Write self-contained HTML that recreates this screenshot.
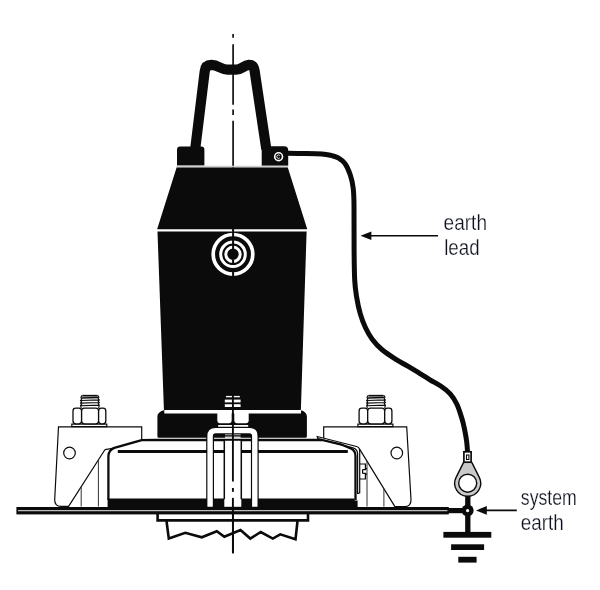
<!DOCTYPE html>
<html lang="en">
<head>
<meta charset="utf-8">
<title>Earth lead / system earth diagram</title>
<style>
  html, body { margin: 0; padding: 0; background: #ffffff; }
  body { width: 600px; height: 590px; overflow: hidden; }
  svg { display: block; }
  .lbl { font-family: "Liberation Sans", "DejaVu Sans", sans-serif; font-size: 21.6px; fill: #0c101c; stroke: #ffffff; stroke-width: 0.25px; }
</style>
</head>
<body>
<svg width="600" height="590" viewBox="0 0 600 590">
  <rect x="0" y="0" width="600" height="590" fill="#ffffff"/>

  <!-- ===== centre line (behind everything) ===== -->
  <g id="centreline-back" stroke="#111" stroke-width="1.7" fill="none">
    <line x1="233.1" y1="34" x2="233.1" y2="37.7"/>
    <line x1="233.1" y1="44.2" x2="233.1" y2="104.8"/>
    <line x1="233.1" y1="109.5" x2="233.1" y2="115"/>
    <line x1="233.1" y1="120.7" x2="233.1" y2="170"/>
    <line x1="233.1" y1="507" x2="233.1" y2="553.3"/>
  </g>

  <!-- ===== lifting handle ===== -->
  <g id="handle">
    <path d="M195.2,149 L204.7,71.5 Q205.4,65 211.4,64.9 C218.5,65.2 221.5,69.7 227.5,69.7 L236,69.7 C241.5,69.7 243.5,65.3 248.8,64.9 Q254,64.7 254.7,71.5 L266.3,149"
          fill="none" stroke="#0b0b0b" stroke-width="10.2" stroke-linejoin="round" stroke-linecap="butt"/>
    <!-- feet -->
    <path d="M177,165.6 L177,149.8 Q177,146.6 180.2,146.6 L201.2,146.6 Q204.4,146.6 204.4,149.8 L204.4,165.6 Z" fill="#0b0b0b"/>
    <path d="M261.7,165.8 L261.7,146.3 L284.2,146.3 Q288.2,146.3 288.2,150.3 L288.2,165.8 Z" fill="#0b0b0b"/>
    <!-- screw -->
    <circle cx="278.6" cy="156.7" r="4.7" fill="#ffffff"/>
    <circle cx="278.6" cy="156.7" r="3.1" fill="#0b0b0b"/>
    <path d="M279.8,155.6 A1.7,1.7 0 1 0 279.8,157.8" fill="none" stroke="#ffffff" stroke-width="0.9"/>
  </g>

  <!-- grey seam under feet -->
  <line x1="176.4" y1="166.7" x2="288" y2="166.7" stroke="#d0d0d0" stroke-width="1.8"/>

  <!-- ===== main body ===== -->
  <g id="body">
    <path d="M176.6,167.6 L287.8,167.6 L307.2,229 L306.6,232 L300.8,412 L164,412 L157.5,232 L157.2,229 Z" fill="#0b0b0b"/>
    <!-- white seam -->
    <line x1="155" y1="230.3" x2="309" y2="230.3" stroke="#ffffff" stroke-width="2.2"/>
    <!-- bottom ring -->
    <path d="M157.4,436.3 L157.4,416.6 Q157.4,414.4 158.8,413 Q161.4,410.2 164,410.2 L300.6,410.2 Q303.4,410.2 305.6,413 Q306.9,414.6 306.9,416.6 L306.9,436.3 Q306.9,437.8 305.4,437.8 L158.9,437.8 Q157.4,437.8 157.4,436.3 Z" fill="#0b0b0b"/>
    <line x1="164.3" y1="411.7" x2="301" y2="411.7" stroke="#ffffff" stroke-width="3.4"/>
    <!-- target rings -->
    <circle cx="233" cy="254.3" r="19.8" fill="none" stroke="#ffffff" stroke-width="3.7"/>
    <circle cx="233" cy="254.3" r="12.3" fill="none" stroke="#ffffff" stroke-width="3"/>
    <circle cx="233" cy="254.3" r="7.2" fill="none" stroke="#ffffff" stroke-width="3"/>
    <!-- centre line crossing the white rings -->
    <g stroke="#0b0b0b" stroke-width="2">
      <line x1="233.1" y1="228" x2="233.1" y2="250.5"/>
      <line x1="233.1" y1="259.5" x2="233.1" y2="263"/>
      <line x1="233.1" y1="271.5" x2="233.1" y2="276.5"/>
    </g>
  </g>

  <!-- ===== earth cable ===== -->
  <path id="cable" d="M287.5,153.3 C290.4,153.3 299.2,153.4 305.0,153.5 C310.8,153.6 317.7,153.7 322.0,154.0 C326.3,154.3 328.3,154.8 331.0,155.4 C333.7,156.1 336.0,156.5 338.3,157.9 C340.6,159.3 343.0,160.8 345.0,163.7 C347.0,166.5 348.9,170.9 350.3,175.0 C351.7,179.1 352.6,183.3 353.2,188.3 C353.8,193.3 353.9,194.7 354.0,205.0 C354.1,215.3 354.0,237.5 354.1,250.0 C354.2,262.5 354.3,272.2 354.7,280.0 C355.1,287.8 355.7,291.2 356.6,296.9 C357.5,302.5 358.8,308.8 360.3,313.9 C361.8,319.0 363.4,323.3 365.4,327.5 C367.4,331.7 369.4,335.6 372.2,339.3 C375.0,343.1 378.4,346.7 382.4,350.0 C386.3,353.3 391.7,356.6 395.9,359.3 C400.1,362.0 403.8,363.8 407.8,366.2 C411.8,368.6 416.3,371.3 420.0,373.6 C423.7,375.9 426.6,377.7 430.0,379.8 C433.4,381.9 437.3,383.7 440.7,386.0 C444.1,388.3 447.5,390.8 450.2,393.8 C452.9,396.8 455.0,400.2 456.9,404.2 C458.8,408.2 460.4,413.6 461.7,417.8 C463.0,422.0 463.8,425.6 464.6,429.5 C465.4,433.4 466.1,437.3 466.6,441.0 C467.1,444.7 467.4,449.8 467.5,451.5"
        fill="none" stroke="#0b0b0b" stroke-width="5" stroke-linecap="butt"/>

  <!-- ===== base housing ===== -->
  <g id="housing" fill="none" stroke="#0b0b0b">
    <path d="M108.4,500 L108.4,456 Q108.6,450.2 114.3,447.9 L141.7,440.2 L157,440 L322,440 L340.7,444.3 L350.8,448.5 Q355.5,450.6 355.5,456 L355.5,500 Z" stroke="none" fill="#ffffff"/>
    <path d="M108.4,500 L108.4,456 Q108.6,450.2 114.3,447.9 L141.7,440.2 L157,440 L322,440 L340.7,444.3 L350.8,448.5 Q355.5,450.6 355.5,456 L355.5,500" stroke-width="2.3" stroke-linejoin="round"/>
    <path d="M115,447.9 Q109.5,449 104.8,449.7" stroke-width="1.3"/>
    <line x1="117.8" y1="451.5" x2="347.8" y2="451.5" stroke-width="2.8"/>
  </g>
  <path d="M107.6,498.6 L354.6,498.6 L354.6,500.6 L357.6,500.6 L357.6,508 L107.6,508 Z" fill="#0b0b0b"/>

  <!-- ===== ground plate ===== -->
  <rect x="16.4" y="507" width="432.4" height="7.4" fill="#0b0b0b"/>
  <line x1="18" y1="510.6" x2="447.4" y2="510.6" stroke="#bdbdbd" stroke-width="1.3"/>

  <!-- ===== left bracket ===== -->
  <g id="bracket-left" fill="none" stroke="#0b0b0b" stroke-width="1.2">
    <path d="M141.7,439.8 L141.7,426.8 L58.5,426.8 L54.7,499.5 Q54.5,506.4 61,506.4 L68.6,506.4 L104.9,449.7"/>
    <line x1="81.2" y1="487" x2="81.2" y2="506.5" stroke="#333" stroke-width="1"/>
    <line x1="98.4" y1="460" x2="98.4" y2="506.5" stroke="#333" stroke-width="1"/>
    <circle cx="69.5" cy="453" r="5.8"/>
    <!-- washer -->
    <rect x="71.8" y="424.1" width="35" height="2.5" fill="#ffffff"/>
    <!-- nut -->
    <rect x="73.0" y="408.1" width="8.6" height="15.8" rx="2.8" fill="#ffffff" stroke-width="1.3"/>
    <rect x="81.6" y="408.1" width="17" height="15.8" rx="2.8" fill="#ffffff" stroke-width="1.3"/>
    <rect x="98.6" y="408.1" width="7.2" height="15.8" rx="2.8" fill="#ffffff" stroke-width="1.3"/>
    <!-- thread -->
    <path d="M82.3,395.7 L97.5,395.7" stroke-width="1.7"/>
    <path d="M81.3,397.9 L98.5,397.6" stroke-width="1.5"/>
    <path d="M80.7,400.5 L99.1,399.9 M80.7,403.1 L99.1,402.5 M80.7,405.7 L99.1,405.1 M82.1,395.2 L80.9,397.4 L81.7,399.0 L80.5,400.5 L81.6,401.8 L80.5,403.1 L81.6,404.4 L80.5,405.7 L81.3,408.0 M97.7,395.2 L98.9,397.2 L98.1,398.6 L99.3,399.9 L98.2,401.2 L99.3,402.5 L98.2,403.8 L99.3,405.1 L98.6,408.0" stroke-width="1.1"/>
  </g>

  <!-- ===== right bracket ===== -->
  <g id="bracket-right" fill="none" stroke="#0b0b0b" stroke-width="1.2">
    <path d="M323.7,438 L323.7,426.8 L406.7,426.8 L411,499.5 Q411.2,506.6 404.5,506.6 L394.9,506.6 L359.3,448.6"/>
    <line x1="367" y1="461" x2="367" y2="506.5" stroke="#333" stroke-width="1"/>
    <line x1="383.9" y1="489" x2="383.9" y2="506.5" stroke="#333" stroke-width="1"/>
    <circle cx="396.8" cy="453" r="5.8"/>
    <!-- cover plate (double line) -->
    <path d="M317.9,438.7 L317.2,436.5 L356.6,446.5 Q359.7,447.4 359.7,451 L359.7,492.8 L357.6,493.6"/>
    <path d="M317.9,438.7 L353,447.9 Q357.6,449.4 357.6,454 L357.6,494"/>
    <!-- small bolt -->
    <path d="M359.7,464 L365.4,464 L365.4,468.6 L367,468.6 M367,474.2 L365.4,474.2 L365.4,479 L359.7,479 M362.6,469.6 L366,469.6 M362.6,473.4 L366,473.4 M362.6,469.6 L362.6,473.4"/>
    <!-- washer -->
    <rect x="357.9" y="424.1" width="35" height="2.5" fill="#ffffff"/>
    <!-- nut -->
    <rect x="359.1" y="408.1" width="8.6" height="15.8" rx="2.8" fill="#ffffff" stroke-width="1.3"/>
    <rect x="367.7" y="408.1" width="17" height="15.8" rx="2.8" fill="#ffffff" stroke-width="1.3"/>
    <rect x="384.7" y="408.1" width="7.2" height="15.8" rx="2.8" fill="#ffffff" stroke-width="1.3"/>
    <!-- thread -->
    <path d="M368.4,395.7 L383.6,395.7" stroke-width="1.7"/>
    <path d="M367.4,397.9 L384.6,397.6" stroke-width="1.5"/>
    <path d="M366.8,400.5 L385.2,399.9 M366.8,403.1 L385.2,402.5 M366.8,405.7 L385.2,405.1 M368.2,395.2 L367.0,397.4 L367.8,399.0 L366.6,400.5 L367.7,401.8 L366.6,403.1 L367.7,404.4 L366.6,405.7 L367.4,408.0 M383.8,395.2 L385.0,397.2 L384.2,398.6 L385.4,399.9 L384.3,401.2 L385.4,402.5 L384.3,403.8 L385.4,405.1 L384.7,408.0" stroke-width="1.1"/>
  </g>

  <!-- ===== centre stud, nut and U-clamp ===== -->
  <g id="centre-stud">
    <!-- thread above nut (white on black body) -->
    <g stroke="#ffffff">
      <line x1="226" y1="396.6" x2="239.8" y2="396.6" stroke-width="1.4"/>
      <line x1="224.8" y1="401" x2="240.6" y2="401" stroke-width="2.8"/>
      <line x1="224.8" y1="405.6" x2="240.6" y2="405.6" stroke-width="2.8"/>
    </g>
    <!-- nut halves -->
    <rect x="217.3" y="410" width="14.4" height="13.2" rx="2.4" fill="#ffffff"/>
    <rect x="234.3" y="410" width="14.4" height="13.2" rx="2.4" fill="#ffffff"/>
    <!-- washer -->
    <rect x="218.2" y="425" width="30" height="2.2" fill="#ffffff"/>
    <!-- stud body -->
    <rect x="224.3" y="440.3" width="17" height="66.5" fill="#ffffff"/>
    <g stroke="#0b0b0b" stroke-width="1.5">
      <line x1="224.3" y1="440" x2="224.3" y2="499.2"/>
      <line x1="241.3" y1="440" x2="241.3" y2="499.2"/>
      <line x1="224" y1="440.2" x2="241.6" y2="440.2" stroke-width="1"/>
    </g>
    <g stroke="#ffffff" stroke-width="1.2">
      <line x1="225" y1="434.6" x2="240.6" y2="434.6"/>
      <line x1="225" y1="437.2" x2="240.6" y2="437.2"/>
    </g>
    <!-- U clamp -->
    <path d="M210.1,499.3 L210.1,436 Q210.1,430.6 215.5,430.6 L249.4,430.6 Q254.8,430.6 254.8,436 L254.8,499.3" fill="none" stroke="#0b0b0b" stroke-width="7.8"/>
    <path d="M210.1,506.8 L210.1,436 Q210.1,430.6 215.5,430.6 L249.4,430.6 Q254.8,430.6 254.8,436 L254.8,506.8" fill="none" stroke="#ffffff" stroke-width="5.4"/>
    <!-- centre line (dash-dot) over the stud -->
    <line x1="232.9" y1="393" x2="232.9" y2="481.5" stroke="#0b0b0b" stroke-width="1.9"/>
    <line x1="232.9" y1="488" x2="232.9" y2="491.8" stroke="#0b0b0b" stroke-width="1.9"/>
    <line x1="232.9" y1="497.9" x2="232.9" y2="553.3" stroke="#0b0b0b" stroke-width="1.9"/>
  </g>

  <!-- ===== below ground ===== -->
  <g id="below" fill="none" stroke="#0b0b0b">
    <path d="M157.6,514 L157.6,520.4 L308,520.4 L308,514" stroke-width="2.6"/>
    <path d="M166.5,521 L168.8,538.6 L185.3,532.8 L201.8,537.3 L216.8,531.3 L224.3,536.8 L240.5,530 L250.3,538.6 L260.8,532 L272.8,538.6 L280.3,534.3 L295.5,539.3 L297.5,521" stroke-width="2.6" stroke-linejoin="miter"/>
  </g>

  <!-- ===== earth lug, node and ground symbol ===== -->
  <g id="earthing">
    <line x1="448" y1="510.6" x2="467.5" y2="510.6" stroke="#0b0b0b" stroke-width="5.2"/>
    <line x1="467.8" y1="495" x2="467.8" y2="534" stroke="#0b0b0b" stroke-width="5.3"/>
    <!-- lug -->
    <path d="M463.6,462.4 L471.8,462.4 L479.3,477.4 A13.0,13.0 0 1 1 456.1,477.4 Z" fill="#c9c9c9" stroke="#0b0b0b" stroke-width="1.4" stroke-linejoin="round"/>
    <circle cx="467.7" cy="483.2" r="9" fill="#ffffff" stroke="#0b0b0b" stroke-width="1.4"/>
    <rect x="463.9" y="451.8" width="7.2" height="10.4" fill="#ffffff" stroke="#0b0b0b" stroke-width="1.7"/>
    <rect x="466.5" y="455" width="2.4" height="4.5" fill="#ffffff" stroke="#0b0b0b" stroke-width="1.1"/>
    <!-- node -->
    <circle cx="467.6" cy="510.6" r="6" fill="#0b0b0b"/>
    <circle cx="467.6" cy="510.6" r="1.6" fill="#ffffff"/>
    <!-- ground bars -->
    <rect x="443.4" y="531.9" width="47.9" height="5.8" fill="#0b0b0b"/>
    <rect x="451.1" y="544.3" width="33" height="5.7" fill="#0b0b0b"/>
    <rect x="458.3" y="556.8" width="18.3" height="5.8" fill="#0b0b0b"/>
  </g>

  <!-- ===== arrows ===== -->
  <g id="arrows" fill="#0b0b0b" stroke="#0b0b0b">
    <line x1="368" y1="235.8" x2="438" y2="235.8" stroke-width="1.6"/>
    <path d="M360.5,235.8 L371.4,231.5 L371.4,240.1 Z" stroke="none"/>
    <line x1="483" y1="510.4" x2="516.8" y2="510.4" stroke-width="1.6"/>
    <path d="M476,510.4 L486.8,506.1 L486.8,514.7 Z" stroke="none"/>
  </g>

  <!-- ===== labels ===== -->
  <g id="labels" style="will-change:opacity;opacity:0.99">
  <text class="lbl" x="443.6" y="230.2" textLength="43.4" lengthAdjust="spacingAndGlyphs">earth</text>
  <text class="lbl" x="444.2" y="254.6" textLength="35.4" lengthAdjust="spacingAndGlyphs">lead</text>
  <text class="lbl" x="520.8" y="504.9" textLength="56" lengthAdjust="spacingAndGlyphs">system</text>
  <text class="lbl" x="520.8" y="529.8" textLength="43" lengthAdjust="spacingAndGlyphs">earth</text>
  </g>
</svg>
</body>
</html>
